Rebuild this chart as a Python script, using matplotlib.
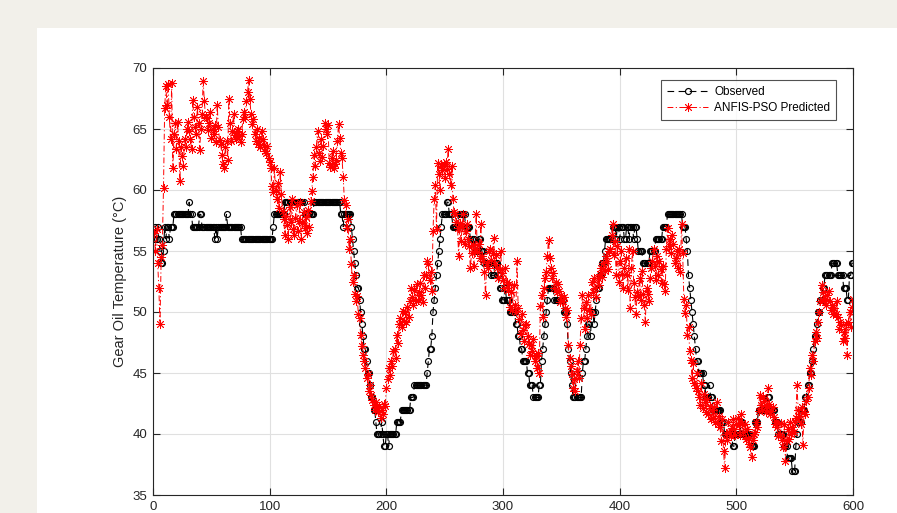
import numpy as np
import matplotlib
matplotlib.use("Agg")
import matplotlib.pyplot as plt
from matplotlib.patches import Rectangle

# observed gear oil temperature, stored as (level, number of samples) runs
obs_runs = [
    (56, 1), (57, 1), (56, 1), (57, 1), (56, 1), (55, 1), (54, 2), (55, 1), (57, 1), (56, 1),
    (57, 2), (56, 1), (57, 3), (58, 13), (59, 1), (58, 2), (57, 6), (58, 2), (57, 11), (56, 1),
    (57, 1), (56, 1), (57, 7), (58, 1), (57, 12), (56, 27), (57, 1), (58, 9), (59, 17), (58, 8),
    (59, 23), (58, 2), (57, 1), (58, 6), (57, 1), (56, 1), (55, 1), (54, 1), (53, 1), (52, 2),
    (51, 1), (50, 1), (49, 1), (48, 1), (47, 2), (46, 1), (45, 2), (44, 1), (43, 2), (42, 2),
    (41, 1), (40, 4), (41, 1), (40, 1), (39, 2), (40, 2), (39, 1), (40, 6), (41, 4), (42, 8),
    (43, 3), (44, 11), (45, 1), (46, 1), (47, 2), (48, 1), (50, 1), (51, 1), (52, 1), (53, 1),
    (54, 1), (55, 1), (56, 1), (57, 1), (58, 4), (59, 2), (58, 3), (57, 5), (58, 6), (57, 4),
    (56, 4), (55, 3), (56, 2), (55, 3), (54, 6), (53, 3), (54, 3), (53, 1), (52, 2), (51, 3),
    (52, 1), (51, 3), (50, 5), (49, 2), (48, 2), (47, 2), (46, 4), (45, 2), (44, 3), (43, 5),
    (44, 2), (46, 1), (47, 1), (48, 1), (49, 1), (50, 1), (51, 1), (52, 5), (51, 8), (50, 3),
    (49, 1), (47, 1), (46, 1), (45, 1), (44, 1), (43, 8), (45, 1), (46, 2), (47, 1), (48, 1),
    (49, 2), (48, 1), (50, 2), (49, 1), (50, 1), (51, 1), (52, 2), (53, 2), (54, 2), (55, 1),
    (56, 6), (57, 3), (56, 1), (57, 2), (56, 1), (57, 3), (56, 2), (57, 2), (56, 1), (57, 3),
    (56, 1), (57, 2), (56, 1), (55, 4), (54, 6), (55, 5), (56, 6), (57, 4), (58, 13), (57, 3),
    (56, 1), (55, 1), (53, 1), (52, 1), (51, 1), (50, 1), (49, 1), (48, 1), (47, 1), (46, 2),
    (45, 4), (44, 2), (43, 3), (44, 1), (43, 2), (42, 7), (41, 3), (40, 7), (39, 2), (40, 5),
    (41, 2), (40, 7), (39, 3), (41, 3), (42, 8), (43, 2), (42, 4), (41, 3), (40, 5), (39, 3),
    (38, 4), (37, 3), (39, 1), (40, 1), (41, 3), (42, 3), (43, 2), (44, 2), (45, 2), (46, 1),
    (47, 1), (48, 2), (49, 1), (50, 2), (51, 2), (52, 2), (53, 6), (54, 5), (53, 5), (52, 3),
    (51, 2), (53, 2), (54, 2),
]

# ANFIS-PSO model output, one value per sample
predicted = [
    56.5, 55.0, 56.8, 54.0, 52.0, 49.0, 54.5, 55.5, 60.2, 66.7, 68.5, 67.0, 68.7, 66.0, 64.2, 68.8, 61.8, 64.6, 65.5, 63.4,
    65.6, 64.0, 60.7, 63.5, 62.8, 62.0, 64.2, 63.5, 65.0, 65.6, 64.8, 64.2, 63.4, 67.4, 66.0, 65.2, 64.6, 66.8, 65.5, 63.3,
    65.0, 66.2, 68.9, 67.3, 66.0, 65.9, 64.9, 65.5, 66.4, 64.3, 65.0, 64.6, 65.3, 63.9, 67.0, 65.2, 64.1, 63.8, 62.9, 62.1,
    61.8, 63.5, 64.0, 62.5, 67.5, 65.5, 64.0, 64.8, 66.2, 64.5, 64.2, 64.8, 65.0, 64.4, 63.9, 64.6, 65.8, 66.4, 66.0, 67.3,
    68.0, 69.0, 67.5, 66.2, 65.4, 65.8, 64.6, 64.0, 65.0, 63.8, 64.3, 63.5, 64.8, 64.2, 63.7, 63.2, 63.0, 63.6, 62.6, 62.3,
    61.8, 60.3, 59.8, 61.8, 60.0, 59.3, 60.6, 58.5, 61.5, 59.7, 58.3, 57.6, 56.3, 57.9, 57.1, 56.0, 58.6, 57.4, 59.3, 56.8,
    56.3, 57.7, 58.8, 56.6, 57.5, 59.0, 56.0, 57.3, 58.2, 56.9, 57.8, 56.5, 58.4, 57.0, 59.1, 59.9, 61.1, 62.9, 62.0, 63.5,
    64.8, 63.0, 62.4, 64.2, 62.7, 63.6, 65.5, 65.0, 64.6, 65.3, 62.2, 61.9, 62.6, 63.2, 61.8, 62.1, 62.5, 64.0, 65.4, 64.3,
    63.0, 62.6, 61.1, 59.2, 58.8, 56.9, 57.6, 55.2, 56.0, 53.9, 52.5, 53.0, 51.5, 50.9, 51.3, 49.8, 49.5, 48.1, 47.2, 46.5,
    46.0, 45.4, 44.6, 44.9, 43.5, 44.0, 43.2, 42.8, 42.4, 42.0, 42.6, 42.1, 41.8, 42.3, 41.3, 42.0, 41.6, 42.5, 42.3, 43.8,
    44.5, 45.4, 44.8, 46.0, 45.6, 46.8, 47.0, 46.2, 48.1, 47.5, 49.0, 49.5, 48.8, 50.1, 49.3, 50.0, 49.2, 50.4, 49.6, 50.9,
    52.0, 51.2, 50.6, 51.8, 50.9, 52.3, 51.0, 51.6, 52.4, 51.4, 50.8, 53.0, 52.0, 53.0, 54.2, 53.9, 52.6, 53.3, 51.7, 56.6,
    59.3, 60.4, 56.8, 62.2, 61.3, 60.0, 62.0, 61.6, 62.1, 61.0, 62.3, 61.7, 63.4, 61.3, 60.4, 62.0, 59.3, 58.2, 58.0, 57.4,
    56.9, 54.6, 57.3, 55.8, 57.0, 58.0, 55.6, 56.6, 57.2, 56.0, 55.4, 53.6, 54.8, 55.5, 53.8, 55.2, 58.0, 54.9, 55.6, 54.4,
    57.2, 54.6, 54.2, 53.3, 51.4, 54.0, 53.6, 55.0, 55.2, 54.3, 54.8, 56.1, 53.9, 54.7, 53.6, 52.8, 53.5, 55.0, 53.2, 52.6,
    52.0, 53.6, 52.5, 51.8, 52.3, 50.4, 51.6, 50.2, 52.2, 50.6, 50.0, 54.2, 50.3, 49.4, 48.2, 49.8, 48.5, 47.6, 48.9, 49.0,
    48.0, 47.4, 46.5, 47.3, 46.8, 47.8, 46.0, 46.4, 45.4, 46.6, 45.0, 50.5, 51.4, 49.6, 52.0, 52.8, 53.3, 54.6, 55.9, 54.4,
    53.6, 52.8, 53.2, 52.0, 52.5, 51.6, 52.3, 51.7, 50.8, 51.4, 50.9, 51.2, 50.3, 49.6, 50.2, 47.3, 46.2, 45.6, 44.9, 43.8,
    44.5, 43.5, 45.2, 46.0, 44.6, 47.3, 49.5, 51.4, 50.3, 48.6, 50.8, 49.5, 51.4, 50.2, 49.8, 52.5, 51.6, 52.8, 52.0, 51.2,
    52.8, 52.2, 53.1, 53.6, 52.9, 54.0, 53.4, 54.6, 54.2, 53.5, 55.0, 55.2, 56.3, 57.2, 54.7, 55.8, 53.0, 55.4, 52.5, 54.2,
    55.0, 53.1, 52.0, 53.6, 54.4, 53.0, 51.8, 55.2, 50.3, 53.6, 55.0, 52.4, 51.2, 49.8, 51.6, 51.4, 52.8, 51.0, 53.4, 51.5,
    50.6, 49.2, 52.0, 51.5, 50.9, 52.8, 53.6, 54.2, 55.2, 53.8, 52.6, 54.6, 53.0, 54.2, 53.5, 52.4, 53.8, 52.3, 51.7, 55.2,
    56.9, 55.4, 56.0, 54.8, 56.3, 55.6, 54.0, 54.4, 55.0, 53.6, 55.2, 53.3, 57.2, 54.8, 51.1, 49.9, 50.6, 48.1, 48.8, 46.8,
    46.1, 44.6, 45.8, 44.2, 43.8, 45.0, 43.5, 43.0, 42.4, 44.2, 42.1, 43.3, 42.6, 41.8, 42.9, 41.6, 42.3, 41.2, 42.0, 41.3,
    42.2, 41.0, 42.6, 40.8, 41.5, 40.6, 39.4, 41.2, 38.6, 37.2, 40.0, 39.5, 41.0, 40.2, 39.8, 40.5, 41.2, 40.4, 39.9, 40.8,
    41.3, 40.7, 39.9, 41.6, 40.9, 40.2, 40.8, 39.6, 40.4, 39.7, 39.2, 38.9, 38.1, 39.5, 40.0, 40.2, 41.0, 40.6, 41.9, 43.2,
    42.4, 42.0, 43.0, 42.7, 41.8, 42.3, 43.8, 42.5, 41.6, 41.9, 42.2, 41.4, 40.8, 41.0, 40.6, 39.8, 40.0, 40.9, 39.5, 38.9,
    40.8, 37.8, 39.4, 40.4, 39.6, 41.0, 40.0, 40.6, 40.2, 41.0, 41.3, 44.0, 42.0, 41.5, 40.8, 42.2, 39.1, 41.8, 41.6, 42.7,
    43.0, 43.8, 45.4, 44.8, 46.5, 46.0, 47.6, 48.4, 47.9, 49.2, 50.0, 50.9, 52.2, 51.6, 51.0, 51.1, 50.6, 51.4, 51.7, 50.9,
    50.2, 50.6, 49.8, 50.3, 49.8, 50.9, 49.6, 48.6, 49.2, 48.9, 47.6, 48.4, 47.9, 49.0, 46.5, 49.2, 50.0, 48.8, 50.4, 51.1,
]

x_ticks = [0, 100, 200, 300, 400, 500, 600]
y_ticks = [35, 40, 45, 50, 55, 60, 65, 70]

levels = np.array([r[0] for r in obs_runs], dtype=float)
counts = np.array([r[1] for r in obs_runs])
observed = np.repeat(levels, counts)
t_obs = np.arange(1, len(observed) + 1)
t_pred = np.arange(1, len(predicted) + 1)

plt.rcParams['font.family'] = ['Liberation Sans', 'DejaVu Sans']

fig = plt.figure(figsize=(8.97, 5.13), dpi=100)
fig.patch.set_facecolor('#f2f0ea')
# white page area behind the axes
fig.patches.append(Rectangle((37 / 897, 0), 1 - 37 / 897, 1 - 28 / 513,
                             transform=fig.transFigure, facecolor='white',
                             edgecolor='none', zorder=-10))

ax = fig.add_axes([153 / 897, 18 / 513, 700 / 897, 427 / 513])
ax.set_zorder(1)

ax.plot(t_obs, observed, color='black', lw=0.8, dashes=(6, 4), marker='o',
        ms=4.3, mfc='none', mec='black', mew=0.85, label='Observed')
ax.plot(t_pred, predicted, color='red', lw=0.7, dashes=(6, 2.5, 1.2, 2.5),
        marker=(8, 2, 0), ms=6.5, mec='red', mew=0.6,
        label='ANFIS-PSO Predicted')

ax.set_xlim(0, 600)
ax.set_ylim(35, 70)
ax.set_xticks(x_ticks)
ax.set_yticks(y_ticks)
ax.set_ylabel('Gear Oil Temperature (\u00b0C)', fontsize=10.5, color='#262626')
ax.grid(True, color='#e0e0e0', lw=0.8)
ax.set_axisbelow(True)
ax.tick_params(direction='in', top=True, right=True, length=5, width=0.8,
               labelsize=9.5, colors='#262626', pad=4)
for s in ax.spines.values():
    s.set_color('#262626')
    s.set_linewidth(0.8)

leg = ax.legend(loc='upper right', bbox_to_anchor=(0.976, 0.972),
                borderaxespad=0, fontsize=8.5, frameon=True, fancybox=False,
                edgecolor='#262626', borderpad=0.5, handlelength=3.5,
                labelspacing=0.35, handletextpad=0.5)
leg.get_frame().set_linewidth(0.8)

fig.savefig('out.png', dpi=100, facecolor=fig.get_facecolor())
